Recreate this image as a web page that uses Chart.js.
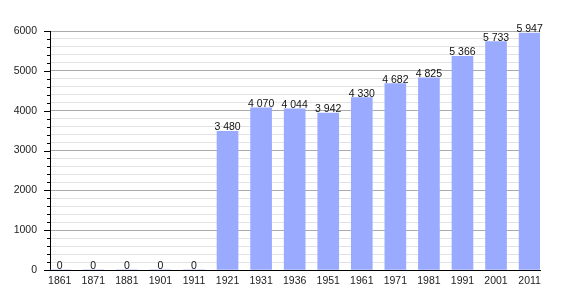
<!DOCTYPE html>
<html>
<head>
<meta charset="utf-8">
<script src="https://cdn.jsdelivr.net/npm/chart.js@4"></script>
<style>
  body { margin: 0; background: #fff; }
  #wrap { width: 570px; height: 300px; }
</style>
</head>
<body>
<div id="wrap"><canvas id="mainChart" width="570" height="300"></canvas></div>
<script>
// census years and population
const years = ['1861', '1871', '1881', '1901', '1911', '1921', '1931', '1936',
  '1951', '1961', '1971', '1981', '1991', '2001', '2011'];
const population = [0, 0, 0, 0, 0, 3480, 4070, 4044, 3942, 4330, 4682, 4825, 5366, 5733, 5947];
const yMax = 6000;

const FONT = '"Liberation Sans", Arial, sans-serif';

function fmt(v) {
  return String(v).replace(/\B(?=(\d{3})+(?!\d))/g, ' ');
}

// value labels above each bar
const barLabels = {
  id: 'barLabels',
  afterDatasetsDraw: function(chart) {
    const c = chart.ctx;
    const meta = chart.getDatasetMeta(0);
    c.save();
    c.font = '10.5px ' + FONT;
    c.fillStyle = '#111';
    c.textAlign = 'center';
    c.textBaseline = 'alphabetic';
    meta.data.forEach(function(bar, i) {
      c.fillText(fmt(population[i]), bar.x, bar.y - 1);
    });
    c.restore();
  }
};

// small black tick marks on the y axis, longer at each thousand
const yTicks = {
  id: 'yTicks',
  afterDraw: function(chart) {
    const c = chart.ctx;
    const y = chart.scales.y;
    const left = chart.chartArea.left;
    c.save();
    c.strokeStyle = '#000';
    c.lineWidth = 1;
    y.ticks.forEach(function(t) {
      const py = Math.round(y.getPixelForValue(t.value)) + 0.5;
      const len = t.value % 1000 === 0 ? 6 : 3;
      c.beginPath();
      c.moveTo(left - len, py);
      c.lineTo(left, py);
      c.stroke();
    });
    c.restore();
  }
};

const data = {
  datasets: [{
    data: population.map(function(v, i) { return { x: i, y: v }; }),
    backgroundColor: '#99aaff',
    borderWidth: 0,
    barThickness: 21
  }]
};

const config = {
  type: 'bar',
  data: data,
  options: {
    responsive: false,
    animation: false,
    layout: { padding: { top: 31, right: 30, left: 0, bottom: 0 } },
    plugins: { legend: { display: false }, tooltip: { enabled: false } },
    scales: {
      x: {
        type: 'linear',
        offset: false,
        min: -0.29,
        max: 14.31,
        afterBuildTicks: function(scale) {
          scale.ticks = years.map(function(y, i) { return { value: i }; });
        },
        afterFit: function(scale) {
          scale.height = 30;
          scale.paddingLeft = 0;
          scale.paddingRight = 0;
        },
        grid: { display: false, drawTicks: false },
        border: { display: true, color: '#000', width: 1 },
        ticks: {
          autoSkip: false,
          maxRotation: 0,
          padding: 5,
          color: '#222',
          font: { family: FONT, size: 10.5 },
          callback: function(v) { return years[v]; }
        }
      },
      y: {
        min: 0,
        max: yMax,
        afterFit: function(scale) {
          scale.width = 50;
          scale.paddingTop = 0;
          scale.paddingBottom = 0;
        },
        grid: {
          drawTicks: false,
          color: function(ctx) {
            return ctx.tick && ctx.tick.value % 1000 === 0 ? '#ababab' : '#e2e2e2';
          }
        },
        border: { display: true, color: '#000', width: 1 },
        ticks: {
          stepSize: 200,
          autoSkip: false,
          padding: 13,
          color: '#222',
          font: { family: FONT, size: 10.5 },
          callback: function(v) { return v % 1000 === 0 ? String(v) : ''; }
        }
      }
    }
  },
  plugins: [barLabels, yTicks]
};

const myChart = new Chart(document.getElementById('mainChart'), config);
</script>
</body>
</html>
